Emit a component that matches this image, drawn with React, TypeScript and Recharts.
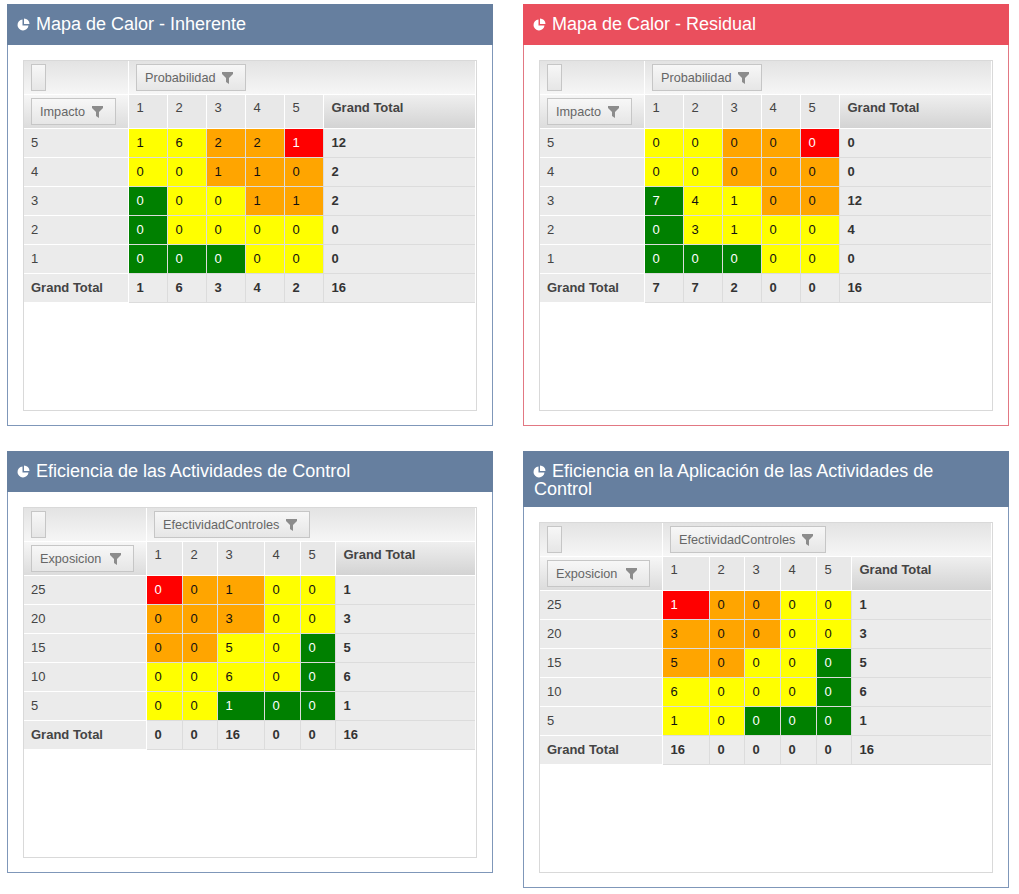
import { Bar, BarChart, Cell, XAxis, YAxis } from "recharts"

const FONT = "'Liberation Sans', Arial, sans-serif"

const columnLabels = ["1", "2", "3", "4", "5"]
const totalLabel = "Grand Total"

// counts per row, top row first
const impactRows = ["5", "4", "3", "2", "1"]
const exposureRows = ["25", "20", "15", "10", "5"]

const inherentCounts = [
  [1, 6, 2, 2, 1],
  [0, 0, 1, 1, 0],
  [0, 0, 0, 1, 1],
  [0, 0, 0, 0, 0],
  [0, 0, 0, 0, 0],
]
const inherentRowTotals = [12, 2, 2, 0, 0]
const inherentColTotals = [1, 6, 3, 4, 2]

const residualCounts = [
  [0, 0, 0, 0, 0],
  [0, 0, 0, 0, 0],
  [7, 4, 1, 0, 0],
  [0, 3, 1, 0, 0],
  [0, 0, 0, 0, 0],
]
const residualRowTotals = [0, 0, 12, 4, 0]
const residualColTotals = [7, 7, 2, 0, 0]

const controlCounts = [
  [0, 0, 1, 0, 0],
  [0, 0, 3, 0, 0],
  [0, 0, 5, 0, 0],
  [0, 0, 6, 0, 0],
  [0, 0, 1, 0, 0],
]
const controlRowTotals = [1, 3, 5, 6, 1]
const controlColTotals = [0, 0, 16, 0, 0]

const applicationCounts = [
  [1, 0, 0, 0, 0],
  [3, 0, 0, 0, 0],
  [5, 0, 0, 0, 0],
  [6, 0, 0, 0, 0],
  [1, 0, 0, 0, 0],
]
const applicationRowTotals = [1, 3, 5, 6, 1]
const applicationColTotals = [16, 0, 0, 0, 0]

const grandTotal = 16

// R red, O orange, Y yellow, G green
const impactLevels = ["YYOOR", "YYOOO", "GYYOO", "GYYYY", "GGGYY"]
const exposureLevels = ["ROOYY", "OOOYY", "OOYYG", "YYYYG", "YYGGG"]

const levelColors: Record<string, string> = {
  R: "#ff0000",
  O: "#ffa500",
  Y: "#ffff00",
  G: "#008000",
}

const ROW_H = 29
const HEAD_H = 68
const CHART_W = 452
const TEXT_SIZE = 13

type PanelProps = {
  left: number
  top: number
  height: number
  headerHeight: number
  title: string
  color: string
  border: string
  rowField: string
  colField: string
  rowButton: number
  colButton: number
  rowHead: number
  colWidths: number[]
  rowLabels: string[]
  levels: string[]
  counts: number[][]
  rowTotals: number[]
  colTotals: number[]
}

function Funnel({ x, y }: { x: number; y: number }) {
  return (
    <svg width={11} height={12} style={{ position: "absolute", left: x, top: y }}>
      <path d="M0 0H11V2L7 6V12L4 10V6L0 2Z" fill="#8c8c8c" />
    </svg>
  )
}

function FieldButton({ x, y, width, label }: { x: number; y: number; width: number; label?: string }) {
  return (
    <div
      style={{
        position: "absolute",
        left: x,
        top: y,
        width: width - 2,
        height: 25,
        border: "1px solid #c6c6c6",
        background: "linear-gradient(#f7f7f7, #e6e6e6)",
        font: `12.7px ${FONT}`,
        color: "#666",
      }}
    >
      {label && <span style={{ position: "absolute", left: 8, top: 6 }}>{label}</span>}
      {label && <Funnel x={width - 25} y={7} />}
    </div>
  )
}

function PieIcon({ x, y }: { x: number; y: number }) {
  return (
    <svg width={13} height={13} style={{ position: "absolute", left: x, top: y }}>
      <path d="M5.5 1.5A5.5 5.5 0 1 0 11.5 7.5H5.5Z" fill="#fff" />
      <path d="M7 0.5A5.5 5.5 0 0 1 12.5 6H7Z" fill="#fff" />
    </svg>
  )
}

function PivotTable(props: PanelProps) {
  const { colWidths, rowHead, rowLabels, levels, counts, rowTotals, colTotals } = props
  const widths = [...colWidths]
  const plotWidth = widths.reduce((a, b) => a + b, 0)
  const starts = widths.map((_, i) => widths.slice(0, i).reduce((a, b) => a + b, 0))
  const headers = [...columnLabels, totalLabel]
  const lastRow = rowLabels.length

  const data = [...rowLabels, totalLabel].map((row) => ({ row }))

  return (
    <BarChart
      width={CHART_W}
      height={HEAD_H + ROW_H * data.length}
      data={data}
      layout="vertical"
      margin={{ top: 0, right: 0, bottom: 0, left: 0 }}
      barCategoryGap={0}
      style={{ position: "absolute", left: 0, top: 0 }}
    >
      <XAxis
        type="number"
        orientation="top"
        height={HEAD_H}
        domain={[0, plotWidth]}
        ticks={starts}
        interval={0}
        axisLine={false}
        tickLine={false}
        tick={(t: any) => {
          const i = starts.indexOf(t.payload.value)
          const isTotal = i === headers.length - 1
          return (
            <text
              x={t.x + 7.5}
              y={51}
              textAnchor="start"
              fontFamily={FONT}
              fontSize={TEXT_SIZE}
              fontWeight={isTotal ? 700 : 400}
              fill="#444"
            >
              {headers[i]}
            </text>
          )
        }}
      />
      <YAxis
        type="category"
        dataKey="row"
        width={rowHead}
        axisLine={false}
        tickLine={false}
        interval={0}
        tick={(t: any) => {
          const isTotal = t.payload.value === totalLabel
          return (
            <g>
              <rect x={0} y={t.y - 14.5} width={rowHead - 1} height={28} fill="#ebebeb" />
              <text
                x={7}
                y={t.y + 3.5}
                textAnchor="start"
                fontFamily={FONT}
                fontSize={TEXT_SIZE}
                fontWeight={isTotal ? 700 : 400}
                fill="#444"
              >
                {t.payload.value}
              </text>
            </g>
          )
        }}
      />
      {widths.map((w, c) => (
        <Bar
          key={c}
          dataKey={() => w}
          stackId="cells"
          isAnimationActive={false}
          shape={(p: any) => {
            const r = p.index
            const isTotalCol = c === widths.length - 1
            const isTotalRow = r === lastRow
            const level = !isTotalCol && !isTotalRow ? levels[r][c] : ""
            let value: number
            if (isTotalCol && isTotalRow) value = grandTotal
            else if (isTotalCol) value = rowTotals[r]
            else if (isTotalRow) value = colTotals[c]
            else value = counts[r][c]
            const light = level === "R" || level === "G"
            return (
              <g>
                <rect
                  x={p.x}
                  y={p.y}
                  width={p.width - 1}
                  height={p.height - 1}
                  fill={level ? levelColors[level] : "#ececec"}
                />
                <text
                  x={p.x + 7.5}
                  y={p.y + 18}
                  textAnchor="start"
                  fontFamily={FONT}
                  fontSize={TEXT_SIZE}
                  fontWeight={isTotalCol || isTotalRow ? 700 : 400}
                  fill={light ? "#fff" : isTotalCol || isTotalRow ? "#333" : "#111"}
                >
                  {value}
                </text>
              </g>
            )
          }}
        >
          {data.map((d) => (
            <Cell key={d.row} />
          ))}
        </Bar>
      ))}
    </BarChart>
  )
}

function Panel(props: PanelProps) {
  const { left, top, height, headerHeight, title, color, border, rowHead, colWidths } = props
  const tableTop = headerHeight + 15
  const plotWidth = colWidths.reduce((a, b) => a + b, 0)
  const cols = colWidths.slice(0, 5)
  const colSpan = cols.reduce((a, b) => a + b, 0)
  const bodyRows = ROW_H * 6

  return (
    <div
      style={{
        position: "absolute",
        left,
        top,
        width: 486,
        height,
        boxSizing: "border-box",
        border: `1px solid ${border}`,
        background: "#fff",
      }}
    >
      <div
        style={{
          position: "absolute",
          left: -1,
          top: -1,
          width: 486,
          height: headerHeight,
          background: color,
        }}
      >
        <PieIcon x={10} y={14} />
        <div
          style={{
            position: "absolute",
            left: 11,
            top: 11,
            width: 440,
            font: `18px/18px ${FONT}`,
            color: "#fff",
            textIndent: 18,
          }}
        >
          {title}
        </div>
      </div>
      <div
        style={{
          position: "absolute",
          left: 15,
          top: tableTop - 1,
          width: 454,
          height: height - tableTop - 15,
          boxSizing: "border-box",
          border: "1px solid #d9d9d9",
        }}
      >
        <div style={{ position: "relative", width: CHART_W, height: HEAD_H + bodyRows }}>
          {/* header strip behind the chart */}
          <div
            style={{
              position: "absolute",
              left: 0,
              top: 0,
              width: CHART_W - 1,
              height: 33,
              background: "linear-gradient(#e3e3e3, #f6f6f6)",
            }}
          />
          <div style={{ position: "absolute", left: rowHead - 1, top: 0, width: 1, height: 33, background: "#fff" }} />
          <div
            style={{
              position: "absolute",
              left: 0,
              top: 34,
              width: rowHead - 1,
              height: 33,
              background: "linear-gradient(#f6f6f6, #dcdcdc)",
            }}
          />
          {cols.map((w, i) => (
            <div
              key={i}
              style={{
                position: "absolute",
                left: rowHead + cols.slice(0, i).reduce((a, b) => a + b, 0),
                top: 34,
                width: w - 1,
                height: 33,
                background: "#e8e8e8",
              }}
            />
          ))}
          <div
            style={{
              position: "absolute",
              left: rowHead + colSpan,
              top: 34,
              width: plotWidth - colSpan - 1,
              height: 33,
              background: "linear-gradient(#efefef, #d3d3d3)",
            }}
          />
          {/* grid colour showing between the cells */}
          <div
            style={{
              position: "absolute",
              left: rowHead,
              top: HEAD_H,
              width: plotWidth - 1,
              height: bodyRows,
              background: "#dcdcdc",
            }}
          />
          <FieldButton x={7} y={3} width={15} />
          <FieldButton x={rowHead + 7} y={3} width={props.colButton} label={props.colField} />
          <FieldButton x={7} y={37} width={props.rowButton} label={props.rowField} />
          <PivotTable {...props} />
        </div>
      </div>
    </div>
  )
}

const BLUE = "#667f9f"
const BLUE_EDGE = "#7f97b9"
const RED = "#ea4f5d"
const RED_EDGE = "#e27883"

export default function App() {
  return (
    <div style={{ position: "absolute", left: 0, top: 0, width: 1019, height: 894 }}>
      <Panel
        left={7}
        top={4}
        height={422}
        headerHeight={41}
        title="Mapa de Calor - Inherente"
        color={BLUE}
        border={BLUE_EDGE}
        rowField="Impacto"
        colField="Probabilidad"
        rowButton={85}
        colButton={110}
        rowHead={105}
        colWidths={[39, 39, 39, 39, 39, 152]}
        rowLabels={impactRows}
        levels={impactLevels}
        counts={inherentCounts}
        rowTotals={inherentRowTotals}
        colTotals={inherentColTotals}
      />
      <Panel
        left={523}
        top={4}
        height={422}
        headerHeight={41}
        title="Mapa de Calor - Residual"
        color={RED}
        border={RED_EDGE}
        rowField="Impacto"
        colField="Probabilidad"
        rowButton={85}
        colButton={110}
        rowHead={105}
        colWidths={[39, 39, 39, 39, 39, 152]}
        rowLabels={impactRows}
        levels={impactLevels}
        counts={residualCounts}
        rowTotals={residualRowTotals}
        colTotals={residualColTotals}
      />
      <Panel
        left={7}
        top={451}
        height={422}
        headerHeight={41}
        title="Eficiencia de las Actividades de Control"
        color={BLUE}
        border={BLUE_EDGE}
        rowField="Exposicion"
        colField="EfectividadControles"
        rowButton={103}
        colButton={156}
        rowHead={123}
        colWidths={[36, 35, 47, 36, 35, 140]}
        rowLabels={exposureRows}
        levels={exposureLevels}
        counts={controlCounts}
        rowTotals={controlRowTotals}
        colTotals={controlColTotals}
      />
      <Panel
        left={523}
        top={451}
        height={437}
        headerHeight={56}
        title="Eficiencia en la Aplicación de las Actividades de Control"
        color={BLUE}
        border={BLUE_EDGE}
        rowField="Exposicion"
        colField="EfectividadControles"
        rowButton={103}
        colButton={156}
        rowHead={123}
        colWidths={[47, 35, 36, 36, 35, 140]}
        rowLabels={exposureRows}
        levels={exposureLevels}
        counts={applicationCounts}
        rowTotals={applicationRowTotals}
        colTotals={applicationColTotals}
      />
    </div>
  )
}
